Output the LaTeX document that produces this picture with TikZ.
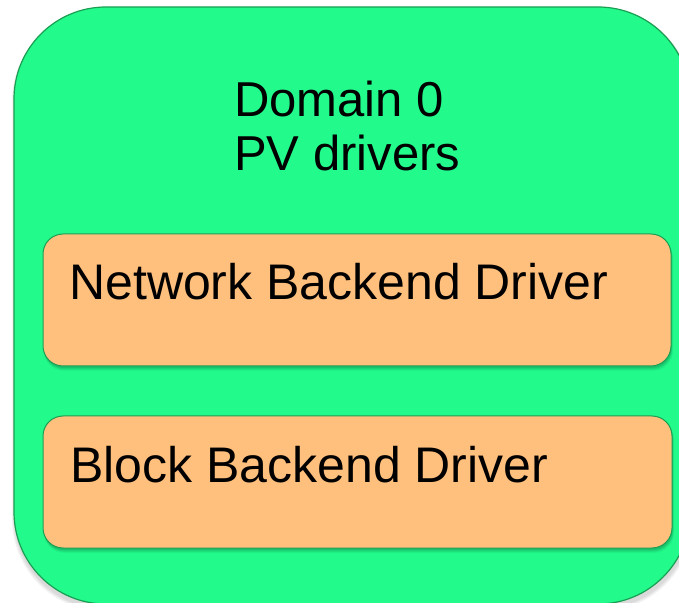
\documentclass[tikz,border=0pt]{standalone}
\usepackage{fontspec}
\setmainfont{Liberation Sans}
\definecolor{domgreen}{HTML}{22FB8C}
\definecolor{domedge}{HTML}{1A9E52}
\definecolor{drvorange}{HTML}{FFBF7D}
\begin{document}
\begin{tikzpicture}[x=1pt,y=1pt,
  panel/.style={fill=domgreen,draw=domedge,line width=1.2pt,rounded corners=92pt},
  drvbox/.style={fill=drvorange,draw=domedge,line width=1pt,rounded corners=20pt},
  boxshade/.style={fill=black,rounded corners=20pt},
  label/.style={font=\fontsize{50}{56}\selectfont,text=black,inner sep=0pt,anchor=base west},
  titlelabel/.style={label,font=\fontsize{49}{55}\selectfont}]
\useasboundingbox (0,0) rectangle (679,602);
\clip (0,0) rectangle (679,602);

% soft shadow behind the domain panel
\foreach \k/\o in {1/0.05,2/0.05,3/0.05}
  \fill[black,opacity=\o,rounded corners=92pt]
    (14-\k+1,-6-\k) rectangle (690+\k,595-\k+1);
\path[panel] (14,-2) rectangle (690,595);

% shadows under the driver boxes
\foreach \k/\o in {1/0.08,2/0.07,3/0.05,4/0.04}{
  \fill[boxshade,opacity=\o] (44,236-\k-1) rectangle (671+\k/2,368-\k);
  \fill[boxshade,opacity=\o] (44,54-\k-1) rectangle (672+\k/2,186-\k);
}
\path[drvbox] (43,236) rectangle (671,368);
\path[drvbox] (43,54) rectangle (672,186);

% panel title
\node[titlelabel] (title) at (234,485) {Domain 0};
\node[titlelabel] (sub) at (234,431) {PV drivers};

% driver names
\node[label] (net) at (69,302) {Network Backend Driver};
\node[label] (blk) at (70,119) {Block Backend Driver};
\end{tikzpicture}
\end{document}
